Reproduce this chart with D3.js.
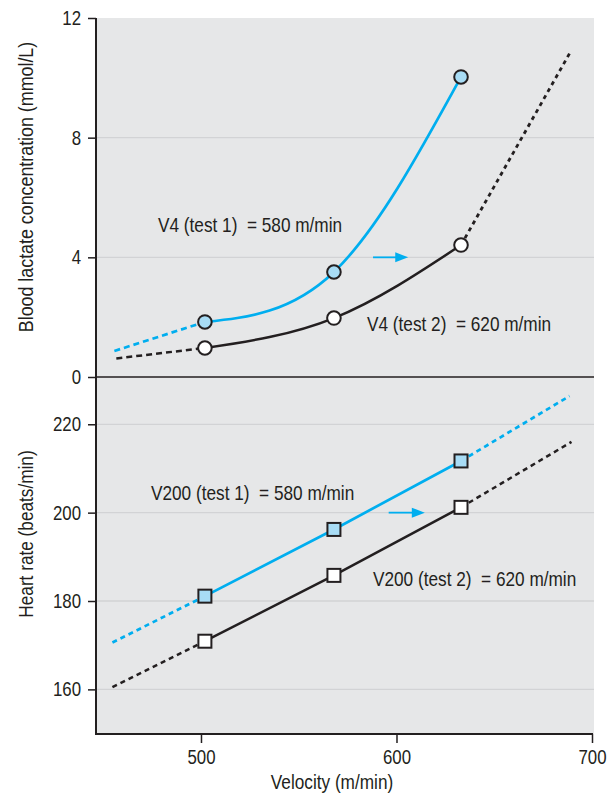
<!DOCTYPE html>
<html><head><meta charset="utf-8">
<script src="https://cdn.jsdelivr.net/npm/d3@7"></script>
<style>
body{margin:0;background:#fff}
text{font-family:"Liberation Sans","Arial",sans-serif;fill:#231f20}
</style>
</head><body><svg id="c" width="616" height="794"></svg>
<script>
// ---- data ----
const velocityTicks=[500,600,700];
const lactateTicks=[0,4,8,12];
const hrTicks=[160,180,200,220];
const testVelocities=[502,568,633];
const lactateTest1=[1.84,3.51,10.03];
const lactateTest2=[0.97,1.97,4.41];
const hrTest1=[181.1,196.2,211.7];
const hrTest2=[170.9,185.8,201.2];
// extrapolated segments [velocity, value]
const lactate1Low=[[455.7,0.87],[502,1.84]];
const lactate2Low=[[456.7,0.62],[502,0.97]];
const lactate2High=[[633,4.41],[689,10.87]];
const hr1Low=[[454.7,170.6],[502,181.1]];
const hr1High=[[633,211.7],[688.5,226.4]];
const hr2Low=[[454.7,160.5],[502,170.9]];
const hr2High=[[633,201.2],[689.5,216.0]];
const labelTexts=["V4 (test 1)  = 580 m/min","V4 (test 2)  = 620 m/min","V200 (test 1)  = 580 m/min","V200 (test 2)  = 620 m/min"];
const xTitle="Velocity (m/min)";
const yTitleTop="Blood lactate concentration (mmol/L)";
const yTitleBottom="Heart rate (beats/min)";

// ---- styles ----
const BLUE="#00aeef", LIGHT="#a8dcf5", BLACK="#231f20", BG="#e6e7e8", GRID="#d2d3d5";
const NARROW=0.82;

const svg=d3.select("#c");
const L=96,R=592,T=18,M=377,B=734;
const x=d3.scaleLinear().domain([446.3,700]).range([L,R]);
const yTop=d3.scaleLinear().domain([0,12]).range([M,T]);
const yBot=d3.scaleLinear().domain([149.9,230.7]).range([B,M]);

svg.append("rect").attr("x",L).attr("y",T).attr("width",R-L+2).attr("height",B-T).attr("fill",BG);

// gridlines
svg.append("g").selectAll("line").data(lactateTicks.filter(d=>d>0&&d<12)).join("line")
 .attr("x1",L).attr("x2",R+2).attr("y1",d=>yTop(d)).attr("y2",d=>yTop(d)).attr("stroke",GRID).attr("stroke-width",1.3);
svg.append("g").selectAll("line").data(hrTicks).join("line")
 .attr("x1",L).attr("x2",R+2).attr("y1",d=>yBot(d)).attr("y2",d=>yBot(d)).attr("stroke",GRID).attr("stroke-width",1.3);

// axes
const fs="20.5px";
const gTop=svg.append("g").attr("transform",`translate(${L},0)`).call(d3.axisLeft(yTop).tickValues(lactateTicks).tickSize(8).tickPadding(7).tickFormat(d3.format("d")));
const gBot=svg.append("g").attr("transform",`translate(${L},0)`).call(d3.axisLeft(yBot).tickValues(hrTicks).tickSize(8).tickPadding(7).tickFormat(d3.format("d")));
const gX=svg.append("g").attr("transform",`translate(0,${B})`).call(d3.axisBottom(x).tickValues(velocityTicks).tickSize(9).tickPadding(6).tickFormat(d3.format("d")));
[gTop,gBot,gX].forEach(g=>{
  g.select(".domain").remove();
  g.selectAll(".tick line").attr("stroke",BLACK).attr("stroke-width",1.5);
  g.selectAll(".tick text").style("font-size",fs).attr("fill",BLACK);
  g.attr("font-family",null).attr("font-size",null);
});
// condense tick labels
svg.selectAll(".tick text").each(function(){
  const len=this.getComputedTextLength();
  d3.select(this).attr("textLength",len*NARROW).attr("lengthAdjust","spacingAndGlyphs");
});
// axis lines
svg.append("line").attr("x1",L).attr("x2",L).attr("y1",T).attr("y2",B+1).attr("stroke",BLACK).attr("stroke-width",2);
svg.append("line").attr("x1",L).attr("x2",R+1).attr("y1",B).attr("y2",B).attr("stroke",BLACK).attr("stroke-width",2);
svg.append("line").attr("x1",L).attr("x2",R+2).attr("y1",M).attr("y2",M).attr("stroke",BLACK).attr("stroke-width",1.6);

// titles (condensed with a horizontal scale)
svg.append("text").attr("transform",`translate(332,789) scale(${NARROW},1)`).attr("text-anchor","middle").style("font-size","21px").text(xTitle);
svg.append("text").attr("transform",`translate(33,187) rotate(-90) scale(0.85,1)`).attr("text-anchor","middle").style("font-size","21px").text(yTitleTop);
svg.append("text").attr("transform",`translate(33,534) rotate(-90) scale(${NARROW},1)`).attr("text-anchor","middle").style("font-size","21px").text(yTitleBottom);

// lines
function seg(data,ys,color,dash,w){
  svg.append("path").datum(data).attr("fill","none").attr("stroke",color).attr("stroke-width",w)
   .attr("stroke-dasharray",dash)
   .attr("d",d3.line().x(d=>x(d[0])).y(d=>ys(d[1])));
}
function curve(vals,ys,color,w,cv){
  const pts=testVelocities.map((v,i)=>[v,vals[i]]);
  svg.append("path").datum(pts).attr("fill","none").attr("stroke",color).attr("stroke-width",w)
   .attr("d",d3.line().x(d=>x(d[0])).y(d=>ys(d[1])).curve(cv));
}
seg(lactate1Low,yTop,BLUE,"6,4",2.7);
seg(lactate2Low,yTop,BLACK,"6,4",2.5);
seg(lactate2High,yTop,BLACK,"4,4",2.8);
curve(lactateTest1,yTop,BLUE,2.7,d3.curveNatural);
curve(lactateTest2,yTop,BLACK,2.5,d3.curveNatural);

seg(hr1Low,yBot,BLUE,"5,4",2.7);
seg(hr1High,yBot,BLUE,"5,4",2.7);
seg(hr2Low,yBot,BLACK,"5,4",2.5);
seg(hr2High,yBot,BLACK,"5,4",2.5);
curve(hrTest1,yBot,BLUE,2.7,d3.curveLinear);
curve(hrTest2,yBot,BLACK,2.5,d3.curveLinear);

// markers
function circles(vals,fill){
  svg.append("g").selectAll("circle").data(vals).join("circle")
   .attr("cx",(d,i)=>x(testVelocities[i])).attr("cy",d=>yTop(d)).attr("r",6.8)
   .attr("fill",fill).attr("stroke",BLACK).attr("stroke-width",2);
}
function squares(vals,fill){
  const s=13;
  svg.append("g").selectAll("rect").data(vals).join("rect")
   .attr("x",(d,i)=>x(testVelocities[i])-s/2).attr("y",d=>yBot(d)-s/2).attr("width",s).attr("height",s)
   .attr("fill",fill).attr("stroke",BLACK).attr("stroke-width",2);
}
circles(lactateTest1,LIGHT);
circles(lactateTest2,"#fff");
squares(hrTest1,LIGHT);
squares(hrTest2,"#fff");

// arrows (velocity start, velocity end, value)
const arrowTop=[588,606,4];
const arrowBot=[596,614.5,200];
function arrow(a,ys){
  const x0=x(a[0]),x1=x(a[1]),y=ys(a[2]);
  svg.append("line").attr("x1",x0).attr("x2",x1-10).attr("y1",y).attr("y2",y).attr("stroke",BLUE).attr("stroke-width",1.8);
  svg.append("path").attr("d",`M${x1},${y}L${x1-13},${y-5}L${x1-13},${y+5}Z`).attr("fill",BLUE);
}
arrow(arrowTop,yTop);
arrow(arrowBot,yBot);

// annotations
const labelPos=[[158,232],[367,331],[151,500],[373,586]];
svg.append("g").selectAll("text").data(labelTexts).join("text")
 .attr("transform",(d,i)=>`translate(${labelPos[i][0]},${labelPos[i][1]}) scale(${NARROW},1)`)
 .style("font-size","21px")
 .attr("xml:space","preserve").style("white-space","pre").text(d=>d);
</script></body></html>
